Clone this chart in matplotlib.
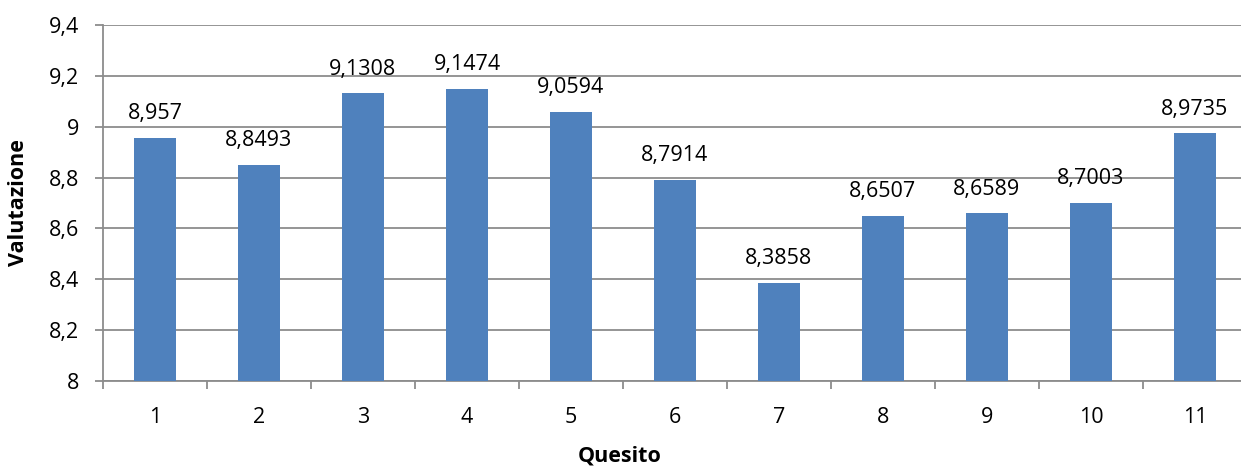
import matplotlib
matplotlib.use("Agg")
import matplotlib.pyplot as plt
from matplotlib.ticker import FixedLocator

categories = ["1", "2", "3", "4", "5", "6", "7", "8", "9", "10", "11"]
values = [8.957, 8.8493, 9.1308, 9.1474, 9.0594, 8.7914, 8.3858, 8.6507, 8.6589, 8.7003, 8.9735]
value_labels = ["8,957", "8,8493", "9,1308", "9,1474", "9,0594", "8,7914", "8,3858", "8,6507", "8,6589", "8,7003", "8,9735"]
yticks = [8.0, 8.2, 8.4, 8.6, 8.8, 9.0, 9.2, 9.4]
ytick_labels = ["8", "8,2", "8,4", "8,6", "8,8", "9", "9,2", "9,4"]

plt.rcParams['font.family'] = ['Open Sans', 'DejaVu Sans']
W, H = 1241, 466
FS = 15.5
fig = plt.figure(figsize=(W/100, H/100), dpi=100)
left, right, top, bottom = 103, 1247, 25, 381
ax = fig.add_axes([left/W, 1-bottom/H, (right-left)/W, (bottom-top)/H])

x = list(range(len(categories)))
bottom_val = 8.0
ax.bar(x, [v - bottom_val for v in values], bottom=bottom_val, width=0.4, color="#4F81BD", zorder=3)
for xi, v, lab in zip(x, values, value_labels):
    ax.annotate(lab, (xi, v), xytext=(0, 13.5), textcoords="offset points",
                ha="center", va="baseline", fontsize=FS, color="black")

ax.set_xlim(-0.5, len(categories) - 0.5)
ax.set_ylim(8.0, 9.4)
ax.set_yticks(yticks)
ax.set_yticklabels(ytick_labels, fontsize=FS)
ax.set_xticks(x)
ax.set_xticklabels(categories, fontsize=FS)
ax.xaxis.set_minor_locator(FixedLocator([i - 0.5 for i in range(len(categories) + 1)]))
ax.tick_params(axis='x', which='major', length=0, pad=19)
ax.tick_params(axis='x', which='minor', length=6, color="#8C8C8C", width=1.3)
ax.tick_params(axis='y', which='major', length=6, color="#8C8C8C", width=1.3, pad=11)
ax.grid(axis='y', color="#8C8C8C", linewidth=1.3, zorder=0)
for s in ['top', 'right']:
    ax.spines[s].set_visible(False)
for s in ['left', 'bottom']:
    ax.spines[s].set_color("#8C8C8C")
    ax.spines[s].set_linewidth(1.3)

fig.text(19/W, 1 - 203/H, "Valutazione", rotation=90, ha="center", va="center", fontsize=FS, fontweight="bold")
fig.text(620/W, 1 - 456/H, "Quesito", ha="center", va="center", fontsize=FS, fontweight="bold")

fig.savefig("out.png", dpi=100)
